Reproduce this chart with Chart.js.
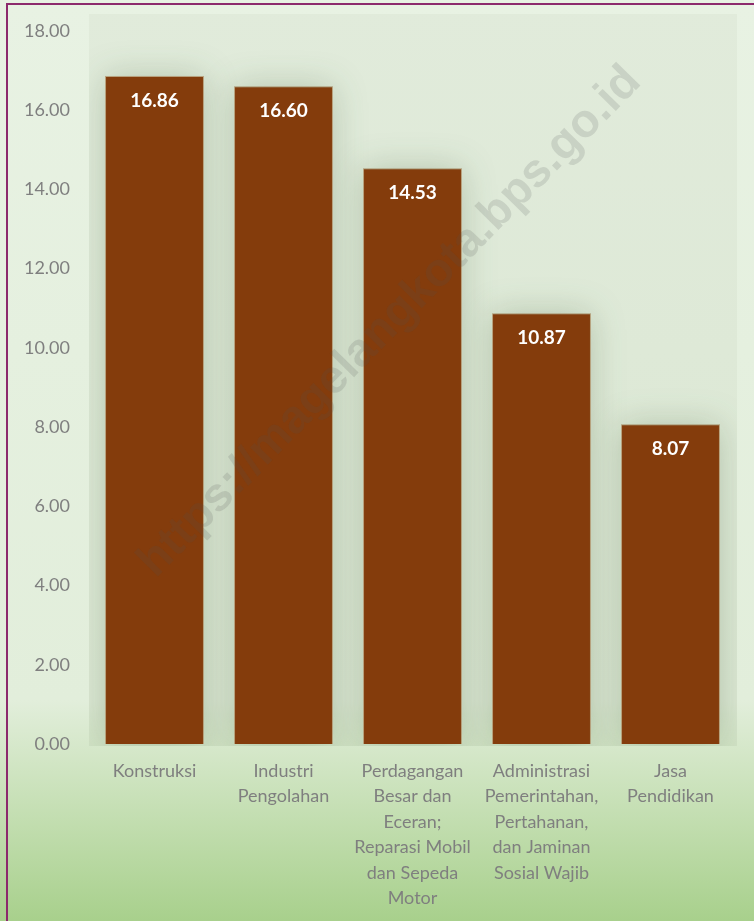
<!DOCTYPE html>
<html>
<head>
<meta charset="utf-8">
<script src="https://cdn.jsdelivr.net/npm/chart.js@4.4.1/dist/chart.umd.min.js"></script>
<style>
  html, body { margin: 0; padding: 0; }
  body {
    width: 754px; height: 921px; position: relative; overflow: hidden;
    background: linear-gradient(to bottom, #e8f2e3 0%, #e2eedb 76%, #a8d08c 100%);
  }
  #frame {
    position: absolute; left: 6px; top: 3px; right: -4px; bottom: -4px;
    border-left: 2px solid #8c2a6c; border-top: 2px solid #8c2a6c;
    pointer-events: none;
  }
  #wrap { position: absolute; left: 0; top: 0; width: 754px; height: 921px; }
</style>
</head>
<body>
<div id="wrap"><canvas id="chart" width="754" height="921"></canvas></div>
<div id="frame"></div>
<script>
Chart.defaults.font.family = 'Lato';
Chart.defaults.color = '#7f7f7f';

// sektor lapangan usaha + nilai
const CATEGORIES = [
  'Konstruksi',
  ['Industri', 'Pengolahan'],
  ['Perdagangan', 'Besar dan', 'Eceran;', 'Reparasi Mobil', 'dan Sepeda', 'Motor'],
  ['Administrasi', 'Pemerintahan,', 'Pertahanan,', 'dan Jaminan', 'Sosial Wajib'],
  ['Jasa', 'Pendidikan'],
];
const VALUES = [16.86, 16.60, 14.53, 10.87, 8.07];
const Y_MAX = 18, Y_STEP = 2;
const WATERMARK = 'https://magelangkota.bps.go.id';

const BAR = '#843c0c';

// soft shaded plot area + glow behind each bar
const plotShade = {
  id: 'plotShade',
  beforeDatasetsDraw(chart) {
    const { ctx, chartArea: a } = chart;
    ctx.save();
    ctx.beginPath();
    ctx.rect(a.left - 1, 14, a.right - a.left + 3, a.bottom + 2 - 14);
    ctx.clip();
    ctx.fillStyle = 'rgba(120,140,110,0.06)';
    ctx.fillRect(a.left - 1, 14, a.right - a.left + 3, a.bottom + 2 - 14);
    chart.getDatasetMeta(0).data.forEach(b => {
      const w = b.width;
      ctx.shadowColor = 'rgba(70,95,60,0.55)';
      ctx.shadowBlur = 34;
      ctx.fillStyle = 'rgba(140,160,130,0.5)';
      ctx.fillRect(b.x - w / 2, b.y, w, b.base - b.y);
    });
    ctx.restore();
  }
};

// value labels inside top of bar
const valueLabels = {
  id: 'valueLabels',
  afterDatasetsDraw(chart) {
    const { ctx } = chart;
    ctx.save();
    ctx.font = 'bold 19px Lato';
    ctx.fillStyle = '#ffffff';
    ctx.textAlign = 'center';
    ctx.textBaseline = 'middle';
    chart.getDatasetMeta(0).data.forEach((b, i) => {
      ctx.fillText(VALUES[i].toFixed(2), b.x, b.y + 25);
    });
    ctx.restore();
  }
};

const watermark = {
  id: 'watermark',
  afterDraw(chart) {
    const { ctx } = chart;
    ctx.save();
    ctx.translate(390, 322);
    ctx.rotate(-45.5 * Math.PI / 180);
    ctx.font = 'bold 47px "Liberation Sans"';
    ctx.fillStyle = 'rgba(80,80,80,0.16)';
    ctx.textAlign = 'center';
    ctx.textBaseline = 'middle';
    ctx.fillText(WATERMARK, 0, 0);
    ctx.restore();
  }
};

new Chart(document.getElementById('chart'), {
  type: 'bar',
  data: {
    labels: CATEGORIES,
    datasets: [{
      data: VALUES,
      backgroundColor: BAR,
      borderColor: 'rgba(190,150,110,0.7)',
      borderWidth: 1,
      barPercentage: 0.767,
      categoryPercentage: 1,
    }],
  },
  options: {
    responsive: false,
    animation: false,
    devicePixelRatio: 1,
    layout: { padding: { left: 0, right: 19, top: 29, bottom: 0 } },
    plugins: { legend: { display: false }, tooltip: { enabled: false } },
    scales: {
      x: {
        grid: { display: false, drawTicks: false },
        border: { display: false },
        ticks: {
          autoSkip: false, maxRotation: 0, minRotation: 0, padding: 14,
          font: { size: 18, lineHeight: 1.42 }, color: '#7f7f7f',
        },
        afterFit(s) { s.height = 177; },
      },
      y: {
        min: 0, max: Y_MAX,
        grid: { display: false, drawTicks: false },
        border: { display: false },
        ticks: {
          stepSize: Y_STEP, padding: 20,
          font: { size: 18 }, color: '#7f7f7f',
          callback: v => v.toFixed(2),
        },
        afterFit(s) { s.width = 90; },
      },
    },
  },
  plugins: [plotShade, valueLabels, watermark],
});
</script>
</body>
</html>
